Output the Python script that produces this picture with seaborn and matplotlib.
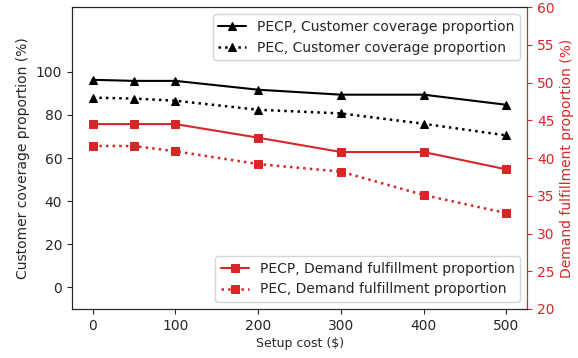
import matplotlib
matplotlib.use("Agg")
import matplotlib.pyplot as plt
import seaborn as sns
import pandas as pd

setup_cost = [0, 50, 100, 200, 300, 400, 500]
pecp_coverage = [96.3, 95.8, 95.8, 91.7, 89.4, 89.4, 84.7]
pec_coverage = [88.0, 87.6, 86.6, 82.4, 80.7, 75.9, 70.5]
pecp_demand = [44.5, 44.5, 44.5, 42.7, 40.8, 40.8, 38.5]
pec_demand = [41.6, 41.6, 40.9, 39.2, 38.2, 35.1, 32.7]

red = "#d62728"

sns.set_style("ticks")
plt.rcParams["font.family"] = ["DejaVu Sans"]
plt.rcParams["font.size"] = 10
plt.rcParams["xtick.labelsize"] = 10
plt.rcParams["ytick.labelsize"] = 10
plt.rcParams["legend.fontsize"] = 10

df = pd.DataFrame({
    "cost": setup_cost,
    "pecp_cov": pecp_coverage,
    "pec_cov": pec_coverage,
    "pecp_dem": pecp_demand,
    "pec_dem": pec_demand,
})

fig = plt.figure(figsize=(5.78, 3.58), dpi=100)
ax = fig.add_axes([0.1246, 0.137, 0.7874, 0.843])
ax2 = ax.twinx()

sns.lineplot(data=df, x="cost", y="pecp_cov", ax=ax, color="black", marker="^",
             markersize=5.5, markeredgecolor="black", linestyle="-",
             label="PECP, Customer coverage proportion")
sns.lineplot(data=df, x="cost", y="pec_cov", ax=ax, color="black", marker="^",
             markersize=5.5, markeredgecolor="black", linestyle=":", linewidth=1.8,
             label="PEC, Customer coverage proportion")
sns.lineplot(data=df, x="cost", y="pecp_dem", ax=ax2, color=red, marker="s",
             markersize=5.5, markeredgecolor=red, linestyle="-",
             label="PECP, Demand fulfillment proportion")
sns.lineplot(data=df, x="cost", y="pec_dem", ax=ax2, color=red, marker="s",
             markersize=5.5, markeredgecolor=red, linestyle=":", linewidth=1.8,
             label="PEC, Demand fulfillment proportion")

ax.set_xlim(-25, 525)
ax.set_ylim(-10, 130)
ax.set_yticks([0, 20, 40, 60, 80, 100])
ax.set_xticks([0, 100, 200, 300, 400, 500])
ax2.set_ylim(20, 60)
ax2.set_yticks([20, 25, 30, 35, 40, 45, 50, 55, 60])

ax.set_xlabel("Setup cost ($)", fontsize=9, labelpad=3)
ax.set_ylabel("Customer coverage proportion (%)", fontsize=10)
ax2.set_ylabel("Demand fulfillment proportion (%)", color=red, fontsize=10)
ax2.tick_params(axis="y", colors=red)
ax2.spines["right"].set_color(red)

ax.legend(loc="upper right")
ax2.legend(loc="lower right")

fig.savefig("out.png", dpi=100)
